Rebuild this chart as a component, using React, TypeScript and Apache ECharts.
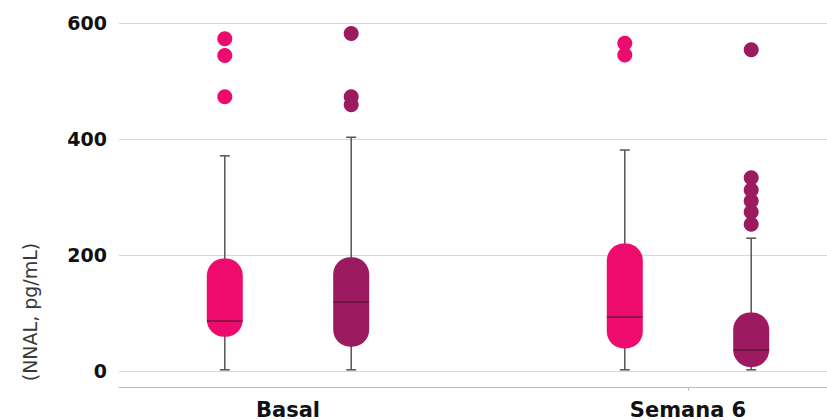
import React, { useEffect, useRef } from "react";
import * as echarts from "echarts";

// ---- data ----
const categories = ["Basal", "Semana 6"];
const yTicks = [0, 200, 400, 600];
// per group: [min, Q1, median, Q3, max]
const pinkStats = [
  [2, 59, 86, 194, 371],
  [2, 39, 93, 220, 381],
];
const purpleStats = [
  [2, 42, 119, 196, 403],
  [2, 7, 36, 101, 229],
];
const pinkOutliers = [
  [573, 544, 473],
  [565, 545],
];
const purpleOutliers = [
  [582, 473, 459],
  [554, 333, 312, 293, 274, 253],
];
const yTitle = "(NNAL, pg/mL)";

// ---- style / layout constants ----
const PINK = "#ED0C6E";
const PURPLE = "#9C1A5F";
const OFFSET = 0.158; // half distance between the two boxes, in x-axis units
const BOX_HALF = 18;
const CAP_HALF = 5;
const WHISKER = "#555555";
const FONT = "DejaVu Sans";

function boxData(stats: number[][], sign: number) {
  return stats.map((s, i) => [i + sign * OFFSET, ...s]);
}
function outlierData(out: number[][], sign: number) {
  const res: number[][] = [];
  out.forEach((vals, i) => vals.forEach((v) => res.push([i + sign * OFFSET, v])));
  return res;
}

function makeRender(color: string) {
  return (params: any, api: any) => {
    const x = api.value(0);
    const pMin = api.coord([x, api.value(1)]);
    const pQ1 = api.coord([x, api.value(2)]);
    const pMed = api.coord([x, api.value(3)]);
    const pQ3 = api.coord([x, api.value(4)]);
    const pMax = api.coord([x, api.value(5)]);
    const cx = pMin[0];
    const lineStyle = { stroke: WHISKER, lineWidth: 1.5 };
    return {
      type: "group",
      children: [
        { type: "line", shape: { x1: cx, y1: pMax[1], x2: cx, y2: pMin[1] }, style: lineStyle },
        { type: "line", shape: { x1: cx - CAP_HALF, y1: pMax[1], x2: cx + CAP_HALF, y2: pMax[1] }, style: lineStyle },
        { type: "line", shape: { x1: cx - CAP_HALF, y1: pMin[1], x2: cx + CAP_HALF, y2: pMin[1] }, style: lineStyle },
        {
          type: "rect",
          shape: { x: cx - BOX_HALF, y: pQ3[1], width: BOX_HALF * 2, height: pQ1[1] - pQ3[1], r: 17 },
          style: { fill: color },
        },
        {
          type: "line",
          shape: { x1: cx - BOX_HALF, y1: pMed[1], x2: cx + BOX_HALF, y2: pMed[1] },
          style: { stroke: "rgba(45,20,30,0.6)", lineWidth: 1.5 },
        },
      ],
    };
  };
}

export default function App() {
  const ref = useRef<HTMLDivElement>(null);
  useEffect(() => {
    if (!ref.current) return;
    const chart = echarts.init(ref.current, undefined, { renderer: "svg" });
    chart.setOption({
      animation: false,
      backgroundColor: "#ffffff",
      grid: { left: 119, right: 0, top: 23, bottom: 49, containLabel: false },
      xAxis: {
        type: "value",
        min: -0.4225,
        max: 1.3475,
        offset: 16,
        splitLine: { show: false },
        axisLine: { show: true, onZero: false, lineStyle: { color: "#bdbdbd", width: 1.2 } },
        axisTick: { show: true, customValues: [1], length: 4, lineStyle: { color: "#bdbdbd" } },
        axisLabel: {
          customValues: [0, 1],
          formatter: (v: number) => categories[Math.round(v)] ?? "",
          fontSize: 21,
          fontWeight: "bold",
          fontFamily: FONT,
          color: "#111111",
          margin: 12,
        },
      },
      yAxis: {
        type: "value",
        min: yTicks[0],
        max: yTicks[yTicks.length - 1],
        interval: yTicks[1] - yTicks[0],
        axisLine: { show: false },
        axisTick: { show: false },
        splitLine: { show: true, lineStyle: { color: "#d9d9d9", width: 1 } },
        axisLabel: {
          fontSize: 19,
          fontWeight: "bold",
          fontFamily: FONT,
          color: "#111111",
          margin: 12,
        },
      },
      series: [
        {
          type: "custom",
          name: "pink",
          renderItem: makeRender(PINK),
          encode: { x: 0, y: [1, 2, 3, 4, 5] },
          data: boxData(pinkStats, -1),
          z: 2,
        },
        {
          type: "custom",
          name: "purple",
          renderItem: makeRender(PURPLE),
          encode: { x: 0, y: [1, 2, 3, 4, 5] },
          data: boxData(purpleStats, 1),
          z: 2,
        },
        {
          type: "scatter",
          data: outlierData(pinkOutliers, -1),
          symbolSize: 15,
          itemStyle: { color: PINK, opacity: 1 },
          z: 3,
        },
        {
          type: "scatter",
          data: outlierData(purpleOutliers, 1),
          symbolSize: 15,
          itemStyle: { color: PURPLE, opacity: 1 },
          z: 3,
        },
      ],
      graphic: [
        {
          type: "text",
          x: 30,
          y: 312,
          rotation: Math.PI / 2,
          style: {
            text: yTitle,
            fontSize: 19,
            fontFamily: FONT,
            fill: "#3a3a3a",
            align: "center",
            verticalAlign: "middle",
          },
        },
      ],
    });
    return () => chart.dispose();
  }, []);
  return (
    <div
      ref={ref}
      style={{ position: "fixed", left: 0, top: 0, width: 827, height: 420 }}
    />
  );
}
